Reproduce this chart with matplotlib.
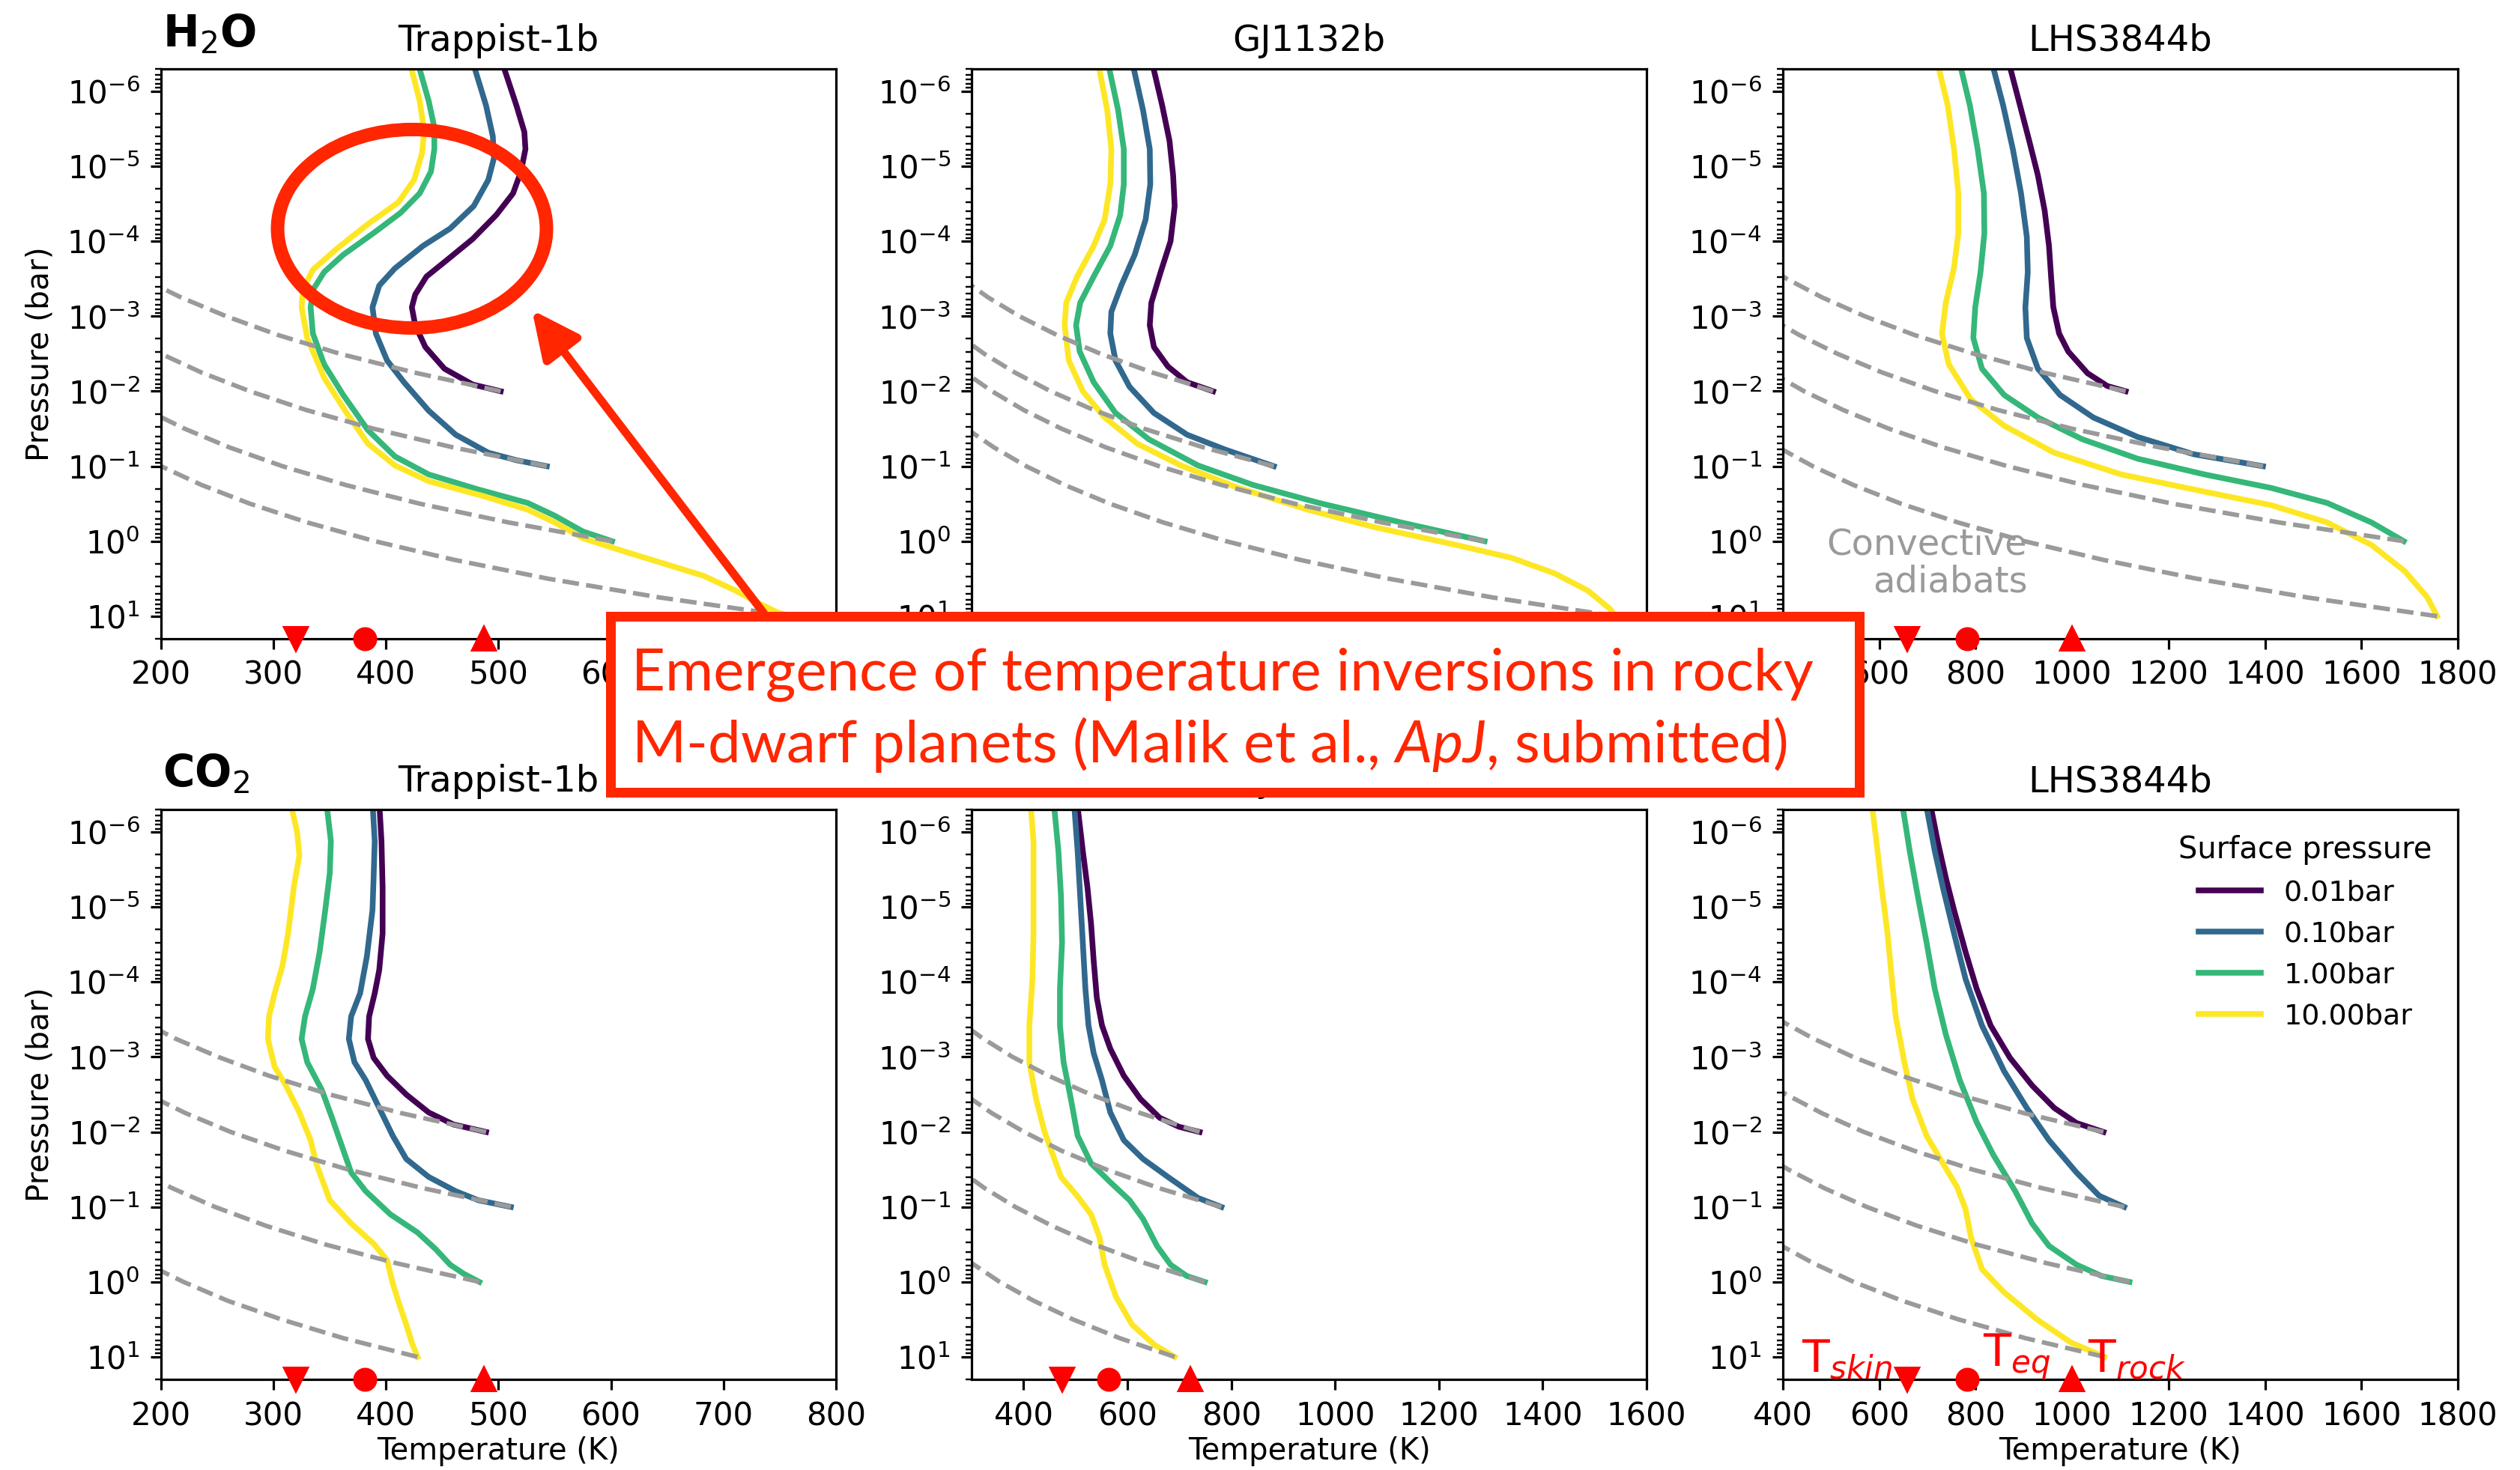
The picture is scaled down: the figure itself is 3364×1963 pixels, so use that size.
import matplotlib.pyplot as plt
from matplotlib.patches import Ellipse, Rectangle, FancyArrowPatch

# italic journal name in the note box uses the custom mathtext fonts
plt.rcParams['mathtext.rm'] = 'Lato'
plt.rcParams['mathtext.it'] = 'Lato:italic'

planets = ['Trappist-1b', 'GJ1132b', 'LHS3844b']
gases = ['H$_2$O', 'CO$_2$']
pressure_labels = ['0.01bar', '0.10bar', '1.00bar', '10.00bar']
profile_colors = ['#440154', '#31688e', '#35b779', '#fde725']

temp_limits = [(200, 800), (300, 1600), (400, 1800)]
temp_ticks = [list(range(200, 801, 100)), list(range(400, 1601, 200)), list(range(400, 1801, 200))]

# skin, equilibrium and bare-rock temperatures (K)
t_skin = [320, 474, 658]
t_eq = [381, 564, 782]
t_rock = [487, 721, 1000]

# ---- H2O atmospheres: temperature (K) vs log10 pressure (bar) ----
h2o_trappist_temp = [
    [503, 516, 523, 524, 520, 513, 498, 477, 455, 436, 426, 423, 426, 435, 452, 477, 502],
    [477, 489, 495, 496, 491, 478, 457, 433, 408, 394, 388, 391, 401, 416, 438, 462, 491, 516, 543],
    [428, 438, 443, 443, 440, 430, 413, 389, 362, 345, 335, 333, 335, 345, 362, 384, 408, 438, 482, 526, 550, 575, 601],
    [421, 430, 434, 432, 425, 411, 384, 357, 335, 326, 325, 330, 345, 365, 384, 408, 438, 487, 526, 550, 575, 604, 643, 682, 711, 733, 748, 760],
]
h2o_trappist_logp = [
    [-6.4, -5.81, -5.46, -5.23, -4.93, -4.64, -4.35, -4.03, -3.76, -3.53, -3.29, -3.12, -2.88, -2.59, -2.30, -2.09, -2.0],
    [-6.4, -5.81, -5.40, -5.11, -4.82, -4.47, -4.17, -3.94, -3.64, -3.41, -3.12, -2.77, -2.41, -2.12, -1.74, -1.42, -1.18, -1.08, -1.0],
    [-6.4, -5.87, -5.52, -5.23, -4.93, -4.64, -4.38, -4.11, -3.82, -3.59, -3.35, -3.12, -2.77, -2.36, -1.95, -1.48, -1.13, -0.89, -0.69, -0.51, -0.34, -0.13, 0.0],
    [-6.4, -5.87, -5.46, -5.17, -4.82, -4.52, -4.23, -3.91, -3.62, -3.35, -3.12, -2.71, -2.18, -1.71, -1.30, -1.01, -0.80, -0.60, -0.42, -0.25, -0.04, 0.10, 0.28, 0.46, 0.66, 0.84, 0.95, 1.0],
]
h2o_gj1132_temp = [
    [647, 667, 681, 688, 691, 683, 664, 646, 643, 651, 678, 715, 765],
    [609, 630, 643, 644, 635, 614, 588, 569, 567, 577, 604, 651, 715, 789, 882],
    [562, 582, 593, 593, 586, 567, 535, 509, 501, 508, 535, 577, 641, 736, 842, 969, 1127, 1288],
    [543, 561, 569, 567, 556, 535, 503, 482, 479, 487, 514, 556, 619, 703, 810, 947, 1074, 1233, 1339, 1423, 1487, 1529, 1540],
]
h2o_gj1132_logp = [
    [-6.4, -5.81, -5.34, -4.88, -4.47, -4.0, -3.59, -3.18, -2.88, -2.59, -2.33, -2.12, -2.0],
    [-6.4, -5.75, -5.23, -4.76, -4.29, -3.82, -3.41, -3.06, -2.77, -2.41, -2.06, -1.71, -1.42, -1.22, -1.0],
    [-6.4, -5.75, -5.23, -4.76, -4.35, -3.94, -3.53, -3.18, -2.88, -2.53, -2.12, -1.71, -1.36, -1.01, -0.75, -0.51, -0.25, 0.0],
    [-6.4, -5.75, -5.23, -4.76, -4.29, -3.94, -3.53, -3.18, -2.88, -2.41, -2.0, -1.65, -1.30, -1.01, -0.72, -0.42, -0.19, 0.05, 0.22, 0.43, 0.66, 0.90, 1.0],
]
h2o_lhs3844_temp = [
    [868, 892, 911, 929, 943, 952, 957, 961, 973, 992, 1032, 1073, 1111],
    [833, 857, 877, 894, 906, 908, 903, 906, 929, 975, 1044, 1136, 1252, 1396],
    [766, 788, 804, 817, 818, 810, 799, 795, 813, 859, 929, 1021, 1136, 1275, 1413, 1529, 1621, 1688],
    [720, 742, 755, 764, 764, 755, 738, 730, 744, 790, 859, 963, 1102, 1275, 1413, 1529, 1621, 1690, 1737, 1757],
]
h2o_lhs3844_logp = [
    [-6.4, -5.81, -5.34, -4.88, -4.41, -3.94, -3.47, -3.12, -2.77, -2.53, -2.24, -2.07, -2.0],
    [-6.4, -5.81, -5.23, -4.64, -4.06, -3.59, -3.12, -2.71, -2.30, -1.95, -1.65, -1.39, -1.16, -1.0],
    [-6.4, -5.81, -5.23, -4.64, -4.11, -3.59, -3.12, -2.71, -2.30, -1.95, -1.65, -1.36, -1.10, -0.89, -0.71, -0.51, -0.25, 0.0],
    [-6.4, -5.81, -5.23, -4.64, -4.11, -3.65, -3.18, -2.77, -2.36, -1.89, -1.54, -1.18, -0.89, -0.66, -0.48, -0.25, 0.05, 0.40, 0.75, 1.0],
]

# ---- CO2 atmospheres ----
co2_trappist_temp = [
    [394, 396, 397, 397, 394, 390, 385, 384, 389, 401, 418, 438, 460, 489],
    [388, 390, 389, 388, 383, 377, 369, 367, 372, 382, 394, 406, 418, 438, 462, 482, 511],
    [347, 351, 350, 346, 341, 335, 328, 325, 330, 343, 352, 362, 369, 382, 404, 428, 444, 457, 469, 483],
    [315, 321, 323, 318, 313, 308, 301, 296, 295, 301, 311, 323, 333, 338, 350, 369, 389, 401, 406, 411, 418, 423, 428],
]
co2_trappist_logp = [
    [-6.4, -5.88, -5.26, -4.65, -4.16, -3.85, -3.54, -3.24, -2.99, -2.75, -2.50, -2.26, -2.10, -2.0],
    [-6.4, -5.88, -5.39, -4.96, -4.34, -3.85, -3.54, -3.24, -2.93, -2.69, -2.32, -1.95, -1.64, -1.40, -1.21, -1.09, -1.0],
    [-6.4, -5.88, -5.45, -4.96, -4.40, -3.91, -3.54, -3.24, -2.93, -2.56, -2.19, -1.76, -1.46, -1.21, -0.90, -0.66, -0.44, -0.23, -0.11, 0.0],
    [-6.4, -6.0, -5.69, -5.26, -4.65, -4.22, -3.85, -3.54, -3.24, -2.87, -2.62, -2.26, -1.89, -1.58, -1.09, -0.78, -0.51, -0.29, 0.02, 0.26, 0.57, 0.81, 1.0],
]
co2_gj1132_temp = [
    [503, 514, 523, 530, 535, 541, 551, 567, 593, 625, 662, 699, 739],
    [497, 504, 509, 514, 519, 525, 535, 551, 567, 593, 630, 678, 736, 781],
    [458, 467, 472, 474, 470, 470, 477, 491, 504, 530, 567, 604, 630, 657, 683, 714, 749],
    [413, 419, 419, 419, 417, 411, 411, 424, 440, 456, 472, 503, 530, 546, 556, 578, 609, 652, 691],
]
co2_gj1132_logp = [
    [-6.4, -5.75, -5.26, -4.77, -4.28, -3.79, -3.42, -3.11, -2.75, -2.44, -2.19, -2.07, -2.0],
    [-6.4, -5.75, -5.14, -4.53, -3.91, -3.42, -3.05, -2.69, -2.26, -1.89, -1.64, -1.40, -1.12, -1.0],
    [-6.4, -5.75, -5.14, -4.53, -3.91, -3.42, -2.93, -2.44, -1.95, -1.58, -1.33, -1.09, -0.84, -0.48, -0.23, -0.08, 0.0],
    [-6.4, -5.88, -5.26, -4.65, -4.04, -3.42, -2.93, -2.44, -2.01, -1.70, -1.40, -1.15, -0.90, -0.60, -0.23, 0.20, 0.57, 0.84, 1.0],
]
co2_lhs3844_temp = [
    [705, 721, 738, 755, 779, 802, 831, 871, 917, 963, 1009, 1065],
    [696, 715, 732, 755, 779, 813, 859, 906, 952, 1009, 1056, 1108],
    [647, 663, 680, 698, 715, 738, 767, 802, 836, 882, 917, 952, 1009, 1061, 1119],
    [584, 594, 605, 617, 626, 634, 652, 669, 698, 732, 761, 779, 790, 813, 859, 929, 998, 1067],
]
co2_lhs3844_logp = [
    [-6.4, -5.88, -5.39, -4.96, -4.40, -3.91, -3.42, -2.99, -2.62, -2.32, -2.12, -2.0],
    [-6.4, -5.75, -5.26, -4.65, -4.04, -3.42, -2.81, -2.32, -1.89, -1.46, -1.15, -1.0],
    [-6.4, -5.75, -5.14, -4.53, -3.91, -3.30, -2.69, -2.13, -1.70, -1.21, -0.78, -0.48, -0.23, -0.08, 0.0],
    [-6.4, -5.88, -5.26, -4.65, -4.04, -3.54, -2.93, -2.44, -1.95, -1.58, -1.27, -0.97, -0.60, -0.17, 0.14, 0.51, 0.81, 1.0],
]

# ---- convective adiabats through each surface point ----
adiabat_logp = [
    [-2.0, -2.25, -2.5, -2.75, -3.0, -3.25, -3.5, -3.75],
    [-1.0, -1.25, -1.5, -1.75, -2.0, -2.25, -2.5, -2.75, -3.0],
    [0.0, -0.25, -0.5, -0.75, -1.0, -1.25, -1.5, -1.75, -2.0, -2.25],
    [1.0, 0.75, 0.5, 0.25, 0.0, -0.25, -0.5, -0.75, -1.0, -1.25, -1.5],
]
h2o_trappist_adiabat = [
    [502, 425, 359, 304, 258, 218, 184],
    [543, 460, 389, 329, 279, 236, 200, 169],
    [601, 509, 430, 364, 308, 261, 221, 187],
    [760, 643, 544, 461, 390, 330, 279, 236, 200, 169],
]
h2o_gj1132_adiabat = [
    [765, 648, 548, 464, 392, 332, 281],
    [882, 747, 632, 535, 452, 383, 324, 274],
    [1288, 1090, 922, 781, 661, 559, 473, 400, 339, 287],
    [1540, 1303, 1103, 933, 790, 669, 566, 479, 405, 343, 290],
]
h2o_lhs3844_adiabat = [
    [1111, 940, 796, 673, 570, 482, 408, 345],
    [1396, 1182, 1000, 846, 716, 606, 513, 434, 367],
    [1688, 1429, 1209, 1023, 866, 733, 620, 525, 444, 376],
    [1757, 1487, 1258, 1065, 901, 763, 645, 546, 462, 391],
]
co2_trappist_adiabat = [
    [489, 414, 350, 296, 251, 212, 180],
    [511, 433, 366, 310, 262, 222, 188],
    [483, 409, 346, 293, 248, 210, 177],
    [428, 362, 307, 259, 220, 186],
]
co2_gj1132_adiabat = [
    [739, 626, 529, 448, 379, 321, 271],
    [781, 661, 559, 473, 401, 339, 287],
    [749, 634, 536, 454, 384, 325, 275],
    [691, 585, 495, 419, 354, 300, 254],
]
co2_lhs3844_adiabat = [
    [1065, 901, 763, 646, 546, 462, 391],
    [1108, 938, 793, 672, 568, 481, 407, 345],
    [1119, 947, 801, 678, 574, 486, 411, 348],
    [1067, 903, 764, 647, 547, 463, 392],
]

profile_temp = [[h2o_trappist_temp, h2o_gj1132_temp, h2o_lhs3844_temp],
                [co2_trappist_temp, co2_gj1132_temp, co2_lhs3844_temp]]
profile_logp = [[h2o_trappist_logp, h2o_gj1132_logp, h2o_lhs3844_logp],
                [co2_trappist_logp, co2_gj1132_logp, co2_lhs3844_logp]]
adiabat_temp = [[h2o_trappist_adiabat, h2o_gj1132_adiabat, h2o_lhs3844_adiabat],
                [co2_trappist_adiabat, co2_gj1132_adiabat, co2_lhs3844_adiabat]]

red = '#ff2600'
p_bottom, p_top = 20, 5e-7

fig = plt.figure(figsize=(3364 / 288, 1963 / 288), dpi=288)
lefts = [0.0639, 0.3856, 0.7075]
bottoms = [0.5655, 0.0616]
axes = {}

for row in range(2):
    for col in range(3):
        ax = fig.add_axes([lefts[col], bottoms[row], 0.2678, 0.3877])
        axes[row, col] = ax
        for k in range(4):
            ax.plot(profile_temp[row][col][k], [10 ** v for v in profile_logp[row][col][k]],
                    color=profile_colors[k], lw=1.9, label=pressure_labels[k])
        for k in range(4):
            temps = adiabat_temp[row][col][k]
            ax.plot(temps, [10 ** v for v in adiabat_logp[k][:len(temps)]],
                    ls='--', color='#9a9a9a', lw=1.5)
        ax.plot(t_skin[col], p_bottom, 'v', color='r', ms=7.5, clip_on=False, zorder=5)
        ax.plot(t_eq[col], p_bottom, 'o', color='r', ms=7, clip_on=False, zorder=5)
        ax.plot(t_rock[col], p_bottom, '^', color='r', ms=7.5, clip_on=False, zorder=5)

        ax.set_yscale('log')
        ax.set_ylim(p_bottom, p_top)
        ax.set_xlim(*temp_limits[col])
        ax.set_xticks(temp_ticks[col])
        ax.tick_params(labelsize=10.5)
        ax.set_title(planets[col], fontsize=12)
        if col == 0:
            ax.set_ylabel('Pressure (bar)', fontsize=10.2)
        if row == 1:
            ax.set_xlabel('Temperature (K)', fontsize=10, labelpad=1.5)

# gas labels
fig.text(0.0645, 0.9684, gases[0], fontsize=14.5, fontweight='bold', va='baseline')
fig.text(0.0645, 0.4651, gases[1], fontsize=14.5, fontweight='bold', va='baseline')

axes[0, 2].text(907, 10 ** 0.78, 'Convective\nadiabats', color='#9a9a9a', fontsize=12,
                ha='right', va='bottom', multialignment='right', linespacing=1.1)

ax = axes[1, 2]
ax.legend(title='Surface pressure', frameon=False, loc='upper right',
          fontsize=9.5, title_fontsize=10, handlelength=2.2)
ax.text(439, 10 ** 1.21, 'T$_{skin}$', color='r', fontsize=15, va='baseline')
ax.text(815, 10 ** 1.13, 'T$_{eq}$', color='r', fontsize=15, va='baseline')
ax.text(1032, 10 ** 1.21, 'T$_{rock}$', color='r', fontsize=15, va='baseline')

# highlight of the inversion region and the note box
fig.add_artist(Ellipse((0.1635, 0.8444), 0.1067, 0.1350, transform=fig.transFigure,
                       fill=False, ec=red, lw=4.5, zorder=4))
fig.add_artist(FancyArrowPatch((0.3029, 0.5833), (0.2111, 0.7891), transform=fig.transFigure,
                               arrowstyle='-|>,head_length=0.67,head_width=0.32',
                               mutation_scale=20, color=red, lw=2.75,
                               shrinkA=0, shrinkB=0, zorder=4))
fig.add_artist(Rectangle((0.2423, 0.4610), 0.4955, 0.1197, transform=fig.transFigure,
                         fc='white', ec=red, lw=3.25, zorder=5))
note_font = dict(color=red, fontsize=19.5, family='Lato', va='baseline', zorder=6,
                 math_fontfamily='custom')
fig.text(0.2506, 0.5303, 'Emergence of temperature inversions in rocky', **note_font)
fig.text(0.2506, 0.4814, 'M-dwarf planets (Malik et al., $\\mathit{ApJ}$, submitted)', **note_font)

fig.savefig('out.png', dpi=288)
